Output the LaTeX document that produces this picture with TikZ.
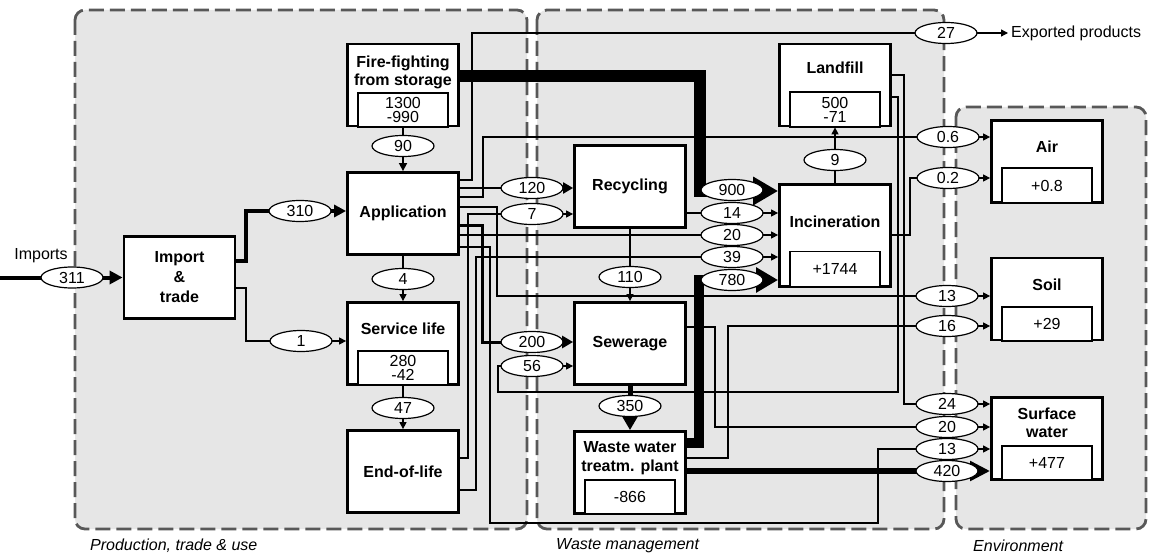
\documentclass[tikz,border=0pt]{standalone}
\usepackage{fontspec}
\setmainfont{Liberation Sans}
\usetikzlibrary{arrows.meta,shapes.geometric}
\definecolor{zonefill}{RGB}{230,230,230}
\definecolor{zoneedge}{RGB}{88,88,88}
\tikzset{
  zone/.style={draw=zoneedge, fill=zonefill, line width=2.8pt,
    dash pattern=on 15pt off 6pt, rounded corners=10pt},
  zonelabel/.style={inner sep=0pt, anchor=west, font=\fontsize{16}{18}\selectfont\itshape},
  proc/.style={draw, fill=white, line width=2.8pt, minimum width=111pt,
    minimum height=82pt, inner sep=0pt, align=center,
    font=\fontsize{16}{20}\selectfont\bfseries},
  boxtitle/.style={inner sep=0pt, align=center, font=\fontsize{16}{18.5}\selectfont\bfseries},
  stock/.style={draw, fill=white, line width=1.2pt, minimum width=90pt,
    inner sep=0pt, align=center, font=\fontsize{16}{14}\selectfont},
  val/.style={ellipse, draw, fill=white, line width=1.2pt, minimum width=62pt,
    minimum height=21pt, inner sep=0pt, font=\fontsize{16}{18}\selectfont},
  plain/.style={inner sep=0pt, font=\fontsize{16}{18}\selectfont},
  thinflow/.style={line width=1.3pt, -{Triangle[length=7pt,width=7pt]}},
}
\begin{document}
\begin{tikzpicture}[x=1pt,y=-1pt]
\useasboundingbox (0,0) rectangle (1153,556);
\fill[white] (0,0) rectangle (1153,556);

% system zones
\draw[zone] (75,10) rectangle (527,529);
\draw[zone] (537,10) rectangle (944,529);
\draw[zone] (956,107) rectangle (1146,529);
\node[zonelabel] (zprod) at (90,546) {Production, trade \& use};
\node[zonelabel] (zwaste) at (556,546) {Waste management};
\node[zonelabel] (zenv) at (973,546) {Environment};

% processes
\node[proc] (imp) at (179.5,277.5) {Import\\\&\\trade};
\node[proc] (fire) at (403,85) {};
\node[proc] (app) at (403,213.5) {Application};
\node[proc] (serv) at (403,343.5) {};
\node[proc] (eol) at (403,471.5) {End-of-life};
\node[proc] (rec) at (630,186.5) {Recycling};
\node[proc] (sew) at (630,343.5) {Sewerage};
\node[proc] (wwtp) at (630,472.5) {};
\node[proc] (land) at (835,85) {};
\node[proc, minimum height=102pt] (inc) at (835,235.5) {};
\node[proc] (air) at (1047,161.5) {};
\node[proc] (soil) at (1047,299) {};
\node[proc] (sw) at (1047,438.5) {};

% free ends
\coordinate (impsrc) at (0,277.5);
\coordinate (expend) at (1008,33);
\node[plain] (implabel) at (41,256) {Imports};
\node[plain, anchor=west] (explabel) at (1011,33) {Exported products};

% flows
\draw[line width=4pt,-{Triangle[length=13pt,width=13pt]}] (impsrc) -- (imp.west);
\draw[line width=4pt,-{Triangle[length=12pt,width=12pt]}] (imp.east |- 0,261) -| (246,211) -- (app.west |- 0,211);
\draw[thinflow] (imp.east |- 0,288) -| (246,341) -- (serv.west |- 0,341);
\draw[line width=1.6pt,-{Triangle[length=8pt,width=8pt]}] (fire.south) -- (app.north);
\draw[thinflow] (app.south) -- (serv.north);
\draw[thinflow] (serv.south) -- (eol.north);
\draw[line width=12pt,-{Triangle[length=25pt,width=27pt]}] (fire.east |- 0,76) -| (700,191) -- (inc.west |- 0,191);
\draw[thinflow] (app.east |- 0,180) -| (472,33) -- (expend);
\draw[line width=2.2pt,-{Triangle[length=10pt,width=11pt]}] (app.east |- 0,188) -- (rec.west |- 0,188);
\draw[thinflow] (app.east |- 0,197) -| (483,137) -- (air.west |- 0,137);
\draw[thinflow] (app.east |- 0,207) -| (497,296) -- (soil.west |- 0,296);
\draw[line width=3pt,-{Triangle[length=11pt,width=12pt]}] (app.east |- 0,225) -| (482,342) -- (sew.west |- 0,342);
\draw[thinflow] (app.east |- 0,235) -- (inc.west |- 0,235);
\draw[thinflow] (app.east |- 0,247) -| (490,523) -| (878,449) -- (sw.west |- 0,449);
\draw[thinflow] (eol.east |- 0,458) -| (468,214) -- (rec.west |- 0,214);
\draw[thinflow] (eol.east |- 0,490) -| (476,257) -- (inc.west |- 0,257);
\draw[thinflow] (rec.east |- 0,213) -- (inc.west |- 0,213);
\draw[thinflow] (rec.south) -- (sew.north);
\draw[line width=5pt,-{Triangle[length=13pt,width=14pt]}] (sew.south) -- (wwtp.north);
\draw[thinflow] (sew.east |- 0,327) -| (715,427) -- (sw.west |- 0,427);
\draw[thinflow] (wwtp.east |- 0,458) -| (728,326) -- (soil.west |- 0,326);
\draw[line width=10pt,-{Triangle[length=22pt,width=24pt]}] (wwtp.east |- 0,443) -| (699,280) -- (inc.west |- 0,280);
\draw[line width=6pt,-{Triangle[length=20pt,width=19pt]}] (wwtp.east |- 0,471) -- (sw.west |- 0,471);
\draw[thinflow] (land.east |- 0,97) -| (898,392) -| (498,366) -- (sew.west |- 0,366);
\draw[thinflow] (land.east |- 0,75) -| (904,404) -- (sw.west |- 0,404);
\draw[thinflow] (inc.north) -- (land.south);
\draw[thinflow] (inc.east |- 0,235) -| (910,178) -- (air.west |- 0,178);

% flow values
\node[val] (v311) at (72,277.5) {311};
\node[val] (v310) at (300,211) {310};
\node[val] (v1) at (301,341) {1};
\node[val] (v90) at (403,146) {90};
\node[val] (v4) at (403,279) {4};
\node[val] (v47) at (403,408) {47};
\node[val] (v27) at (946,33) {27};
\node[val] (v120) at (532,188) {120};
\node[val] (v7) at (532,214) {7};
\node[val] (v200) at (532,342) {200};
\node[val] (v56) at (532,366) {56};
\node[val] (v900) at (732,190) {900};
\node[val] (v14) at (732,213) {14};
\node[val] (v20i) at (732,235) {20};
\node[val] (v39) at (732,257) {39};
\node[val] (v780) at (732,280) {780};
\node[val] (v110) at (630,277) {110};
\node[val] (v350) at (630,406) {350};
\node[val] (v9) at (835,160) {9};
\node[val] (v06) at (948,137) {0.6};
\node[val] (v02) at (948,178) {0.2};
\node[val] (v13s) at (947,296) {13};
\node[val] (v16) at (947,326) {16};
\node[val] (v24) at (947,404) {24};
\node[val] (v20w) at (947,427) {20};
\node[val] (v13w) at (947,449) {13};
\node[val] (v420) at (947,471) {420};

% stocks
\node[stock, minimum height=34pt] (fire-s) at (403,110) {1300\\-990};
\node[stock, minimum height=34pt] (serv-s) at (403,368) {280\\-42};
\node[stock, minimum height=34pt] (wwtp-s) at (630,497) {-866};
\node[stock, minimum height=35pt] (land-s) at (835,109.5) {500\\-71};
\node[stock, minimum height=35pt] (inc-s) at (835,269) {+1744};
\node[stock, minimum height=35pt] (air-s) at (1047,185.5) {+0.8};
\node[stock, minimum height=34pt] (soil-s) at (1047,324) {+29};
\node[stock, minimum height=34pt] (sw-s) at (1047,463) {+477};

% process titles
\node[boxtitle] (fire-t) at (403,72.5) {Fire-fighting\\from storage};
\node[boxtitle] (serv-t) at (403,329) {Service life};
\node[boxtitle] (wwtp-t) at (630,458) {Waste water\\treatm. plant};
\node[boxtitle] (land-t) at (835,68) {Landfill};
\node[boxtitle] (inc-t) at (835,222) {Incineration};
\node[boxtitle] (air-t) at (1047,147) {Air};
\node[boxtitle] (soil-t) at (1047,285) {Soil};
\node[boxtitle] (sw-t) at (1047,423) {Surface\\water};
\end{tikzpicture}
\end{document}
